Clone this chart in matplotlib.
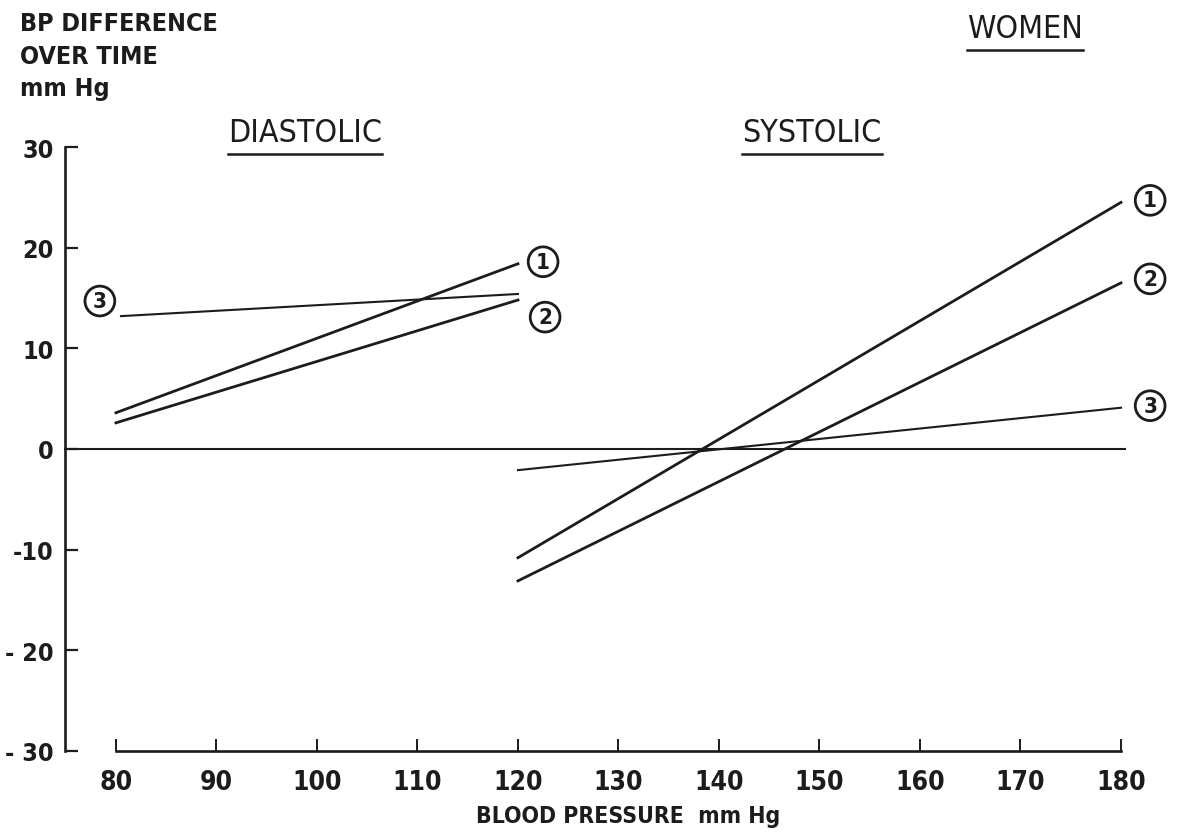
import matplotlib
matplotlib.use("Agg")
import matplotlib.pyplot as plt
from matplotlib.lines import Line2D

# regression lines of BP change against baseline pressure
dia_x = [80, 120]
dia_1 = [3.6, 18.4]
dia_2 = [2.6, 14.8]
dia_3 = [13.2, 15.4]

sys_x = [120, 180]
sys_1 = [-10.8, 24.5]
sys_2 = [-13.1, 16.5]
sys_3 = [-2.1, 4.1]

x_ticks = [80, 90, 100, 110, 120, 130, 140, 150, 160, 170, 180]
y_ticks = [-30, -20, -10, 0, 10, 20, 30]
y_labels = ['- 30', '- 20', '-10', '0', '10', '20', '30']

plt.rcParams['font.family'] = ['DejaVu Sans']
plt.rcParams['font.stretch'] = 'condensed'
plt.rcParams['font.weight'] = 'bold'
INK = '#1c1c1c'

W, H = 1180, 837
fig = plt.figure(figsize=(W / 100, H / 100), dpi=100)
fig.patch.set_facecolor('white')

def fx(px):
    return px / W

def fy(py):
    return 1 - py / H

ax = fig.add_axes([fx(65), fy(752), fx(1121) - fx(65), fy(148) - fy(752)])
ax.set_xlim(74.93, 180)
ax.set_ylim(-30, 30)
ax.patch.set_alpha(0)

for s in ['top', 'right']:
    ax.spines[s].set_visible(False)
for s in ['left', 'bottom']:
    ax.spines[s].set_linewidth(1.9)
    ax.spines[s].set_color(INK)
ax.spines['left'].set_bounds(-30, 30)
ax.spines['bottom'].set_bounds(80, 180)

ax.set_xticks(x_ticks)
ax.set_xticklabels([str(v) for v in x_ticks])
ax.set_yticks(y_ticks)
ax.set_yticklabels(y_labels)
ax.tick_params(axis='y', direction='in', length=9, width=1.6, color=INK,
               labelsize=18, pad=8, labelcolor=INK)
ax.tick_params(axis='x', direction='in', length=9, width=1.4, color=INK,
               labelsize=19, pad=13, labelcolor=INK)

# zero reference line
ax.plot([74.93, 180.4], [0, 0], color=INK, lw=1.5, clip_on=False)

# diastolic
ax.plot(dia_x, dia_1, color=INK, lw=2.0)
ax.plot(dia_x, dia_2, color=INK, lw=2.0)
ax.plot([80.5, 120], dia_3, color=INK, lw=1.5)

# systolic
ax.plot(sys_x, sys_1, color=INK, lw=2.0, clip_on=False)
ax.plot(sys_x, sys_2, color=INK, lw=2.0, clip_on=False)
ax.plot(sys_x, sys_3, color=INK, lw=1.5, clip_on=False)

circ = dict(boxstyle='circle,pad=0.22', fc='white', ec=INK, lw=2.0)
marks = [
    ('1', 122.5, 18.6), ('2', 122.7, 13.1), ('3', 78.4, 14.7),
    ('1', 182.9, 24.7), ('2', 182.9, 16.9), ('3', 182.9, 4.3),
]
for t, x, y in marks:
    ax.text(x, y, t, ha='center', va='center', fontsize=16, color=INK,
            bbox=circ, clip_on=False)

fig.text(fx(628), fy(817), 'BLOOD PRESSURE  mm Hg', ha='center', va='center',
         fontsize=16.5, color=INK)

fig.text(fx(20), fy(12), 'BP DIFFERENCE\nOVER TIME\nmm Hg', ha='left', va='top',
         fontsize=18, color=INK, linespacing=1.45)

titles = [
    fig.text(fx(305), fy(134), 'DIASTOLIC', ha='center', va='center',
             fontsize=23, color=INK, fontweight='normal'),
    fig.text(fx(812), fy(134), 'SYSTOLIC', ha='center', va='center',
             fontsize=23, color=INK, fontweight='normal'),
    fig.text(fx(1025), fy(30), 'WOMEN', ha='center', va='center',
             fontsize=23, color=INK, fontweight='normal'),
]

# underline the headings
fig.canvas.draw()
renderer = fig.canvas.get_renderer()
for t in titles:
    bb = t.get_window_extent(renderer)
    y = (bb.y0 - 5) / H
    fig.add_artist(Line2D([bb.x0 / W, bb.x1 / W], [y, y],
                          transform=fig.transFigure, color=INK, lw=1.8))

fig.savefig('out.png', dpi=100, facecolor='white')
